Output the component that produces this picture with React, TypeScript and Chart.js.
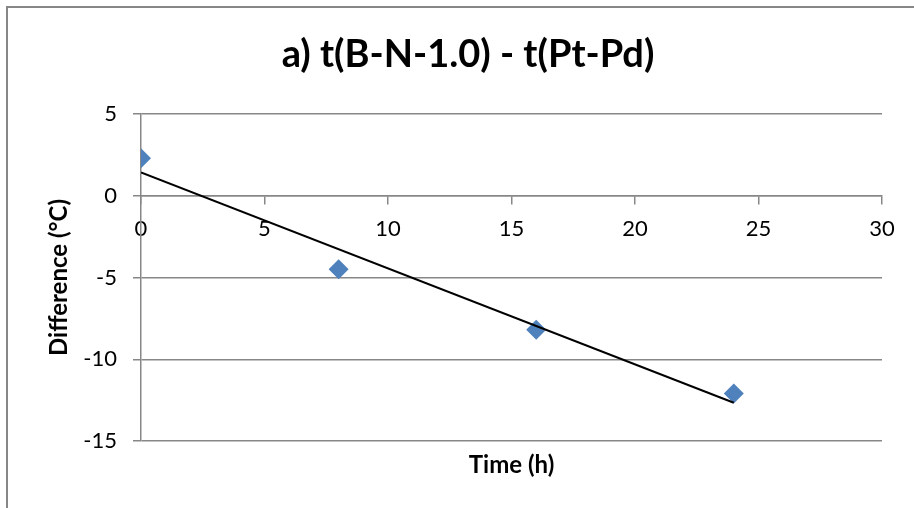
import React, { useEffect, useRef } from "react";
import { Chart, registerables } from "chart.js";

Chart.register(...registerables);

const timeHours = [0, 8, 16, 24];
const differenceC = [2.3, -4.5, -8.2, -12.1];
const trendTime = [0, 24];
const trendDiff = [1.42, -12.66];

const chartTitle = "a) t(B-N-1.0) - t(Pt-Pd)";
const xTitle = "Time (h)";
const yTitle = "Difference (°C)";
const xRange = [0, 30];
const yRange = [-15, 5];
const tickStep = 5;

const FONT = "Lato, 'Open Sans', sans-serif";
const GRID = "#878787";
const MARKER = "#4F81BD";

const borderPlugin = {
  id: "outerBorder",
  beforeDraw(chart: any) {
    const ctx = chart.ctx;
    ctx.save();
    ctx.fillStyle = "#ffffff";
    ctx.fillRect(0, 0, chart.width, chart.height);
    ctx.strokeStyle = GRID;
    ctx.lineWidth = 2;
    ctx.strokeRect(7, 7, 3000, 3000);
    ctx.restore();
  },
};

export default function App() {
  const ref = useRef<HTMLCanvasElement | null>(null);

  useEffect(() => {
    if (!ref.current) return;
    const chart = new Chart(ref.current, {
      type: "scatter",
      data: {
        datasets: [
          {
            label: "trend",
            data: trendTime.map((x, i) => ({ x, y: trendDiff[i] })),
            showLine: true,
            borderColor: "#000000",
            borderWidth: 2,
            pointRadius: 0,
            xAxisID: "x",
            yAxisID: "y",
          },
          {
            label: "data",
            data: timeHours.map((x, i) => ({ x, y: differenceC[i] })),
            pointStyle: "rectRot",
            pointRadius: 10,
            backgroundColor: MARKER,
            borderColor: MARKER,
            borderWidth: 0,
            xAxisID: "x",
            yAxisID: "y",
          },
        ],
      },
      options: {
        responsive: false,
        animation: false,
        devicePixelRatio: 1,
        layout: { padding: { left: 22, right: 0, top: 0, bottom: 0 } },
        plugins: {
          legend: { display: false },
          tooltip: { enabled: false },
          title: {
            display: true,
            text: chartTitle,
            color: "#000",
            font: { family: FONT, size: 38, weight: "bold" },
            padding: { top: 32, bottom: 36.4 },
          },
        },
        scales: {
          x: {
            type: "linear",
            position: { y: 0 } as any,
            min: xRange[0],
            max: xRange[1],
            ticks: {
              stepSize: tickStep,
              color: "#000",
              font: { family: FONT, size: 22 },
              padding: 12,
              maxRotation: 0,
            },
            grid: {
              drawOnChartArea: false,
              drawTicks: true,
              tickLength: 8,
              color: GRID,
              lineWidth: 1.5,
            },
            border: { display: true, color: GRID, width: 1.5 },
          },
          xt: {
            type: "linear",
            axis: "x",
            position: "bottom",
            min: xRange[0],
            max: xRange[1],
            ticks: { display: false },
            grid: { display: false },
            border: { display: false },
            title: {
              display: true,
              text: xTitle,
              color: "#000",
              font: { family: FONT, size: 24, weight: "bold" },
              padding: { top: 0, bottom: 28.6 },
            },
            afterFit: (s: any) => {
              s.height = 67;
            },
          },
          y: {
            type: "linear",
            position: "left",
            min: yRange[0],
            max: yRange[1],
            ticks: {
              stepSize: tickStep,
              color: "#000",
              font: { family: FONT, size: 22 },
              padding: 16,
            },
            grid: {
              color: GRID,
              lineWidth: 1.5,
              drawTicks: true,
              tickLength: 8,
            },
            border: { display: true, color: GRID, width: 1.5 },
            title: {
              display: true,
              text: yTitle,
              color: "#000",
              font: { family: FONT, size: 24, weight: "bold" },
              padding: { top: 22.6, bottom: 0 },
            },
            afterFit: (s: any) => {
              s.width = 119;
            },
          },
          yr: {
            type: "linear",
            axis: "y",
            position: "right",
            ticks: { display: false },
            grid: { display: false },
            border: { display: false },
            afterFit: (s: any) => {
              s.width = 32;
            },
          },
        },
      } as any,
      plugins: [borderPlugin],
    });
    return () => chart.destroy();
  }, []);

  return (
    <div style={{ position: "fixed", left: 0, top: 0, width: 914, height: 508, background: "#fff" }}>
      <canvas ref={ref} width={914} height={508} style={{ display: "block" }} />
    </div>
  );
}
